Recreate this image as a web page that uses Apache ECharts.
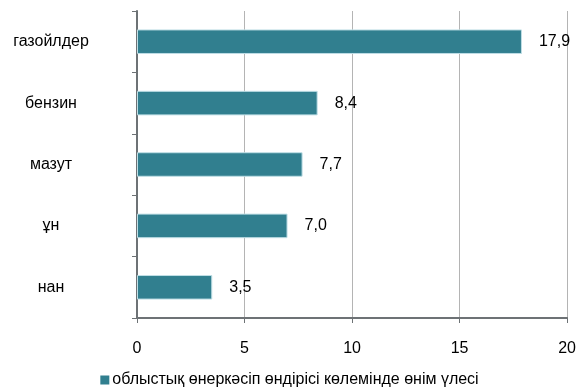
<!DOCTYPE html>
<html>
<head>
<meta charset="utf-8">
<script src="https://cdn.jsdelivr.net/npm/echarts@6/dist/echarts.min.js"></script>
<style>
html,body{margin:0;padding:0;background:#fff;}
#chart{width:579px;height:387px;}
</style>
</head>
<body>
<div id="chart"></div>
<script>
// категориялар (төменнен жоғары қарай)
var categories = ['нан', 'ұн', 'мазут', 'бензин', 'газойлдер'];
var values = [3.5, 7.0, 7.7, 8.4, 17.9];
var seriesName = 'облыстық өнеркәсіп өндірісі көлемінде өнім үлесі';
var xTicks = [0, 5, 10, 15, 20];

var myChart = echarts.init(document.getElementById('chart'));
var option = {
    animation: false,
    textStyle: {fontFamily: 'Liberation Sans, Arial, sans-serif'},
    grid: {left: 137, right: 11, top: 11, bottom: 69},
    legend: {
        data: [seriesName],
        top: 367,
        left: 'center',
        itemWidth: 9,
        itemHeight: 9,
        itemGap: 4,
        itemStyle: {borderWidth: 0},
        textStyle: {fontSize: 16, color: '#000', padding: [0, 0, 0, -2]},
        icon: 'rect'
    },
    xAxis: {
        type: 'value',
        min: xTicks[0],
        max: xTicks[xTicks.length - 1],
        interval: 5,
        axisLine: {show: true, lineStyle: {color: '#6d7275', width: 2}},
        axisTick: {show: true, length: 5, lineStyle: {color: '#6d7275'}},
        axisLabel: {color: '#000', fontSize: 16, margin: 23},
        splitLine: {show: true, lineStyle: {color: '#b4b4b4', width: 1}}
    },
    yAxis: {
        type: 'category',
        data: categories,
        axisLine: {show: true, lineStyle: {color: '#6d7275', width: 2}},
        axisTick: {show: true, length: 5, lineStyle: {color: '#6d7275'}},
        axisLabel: {color: '#000', fontSize: 16, align: 'center', margin: 86},
        splitLine: {show: false}
    },
    series: [{
        name: seriesName,
        type: 'bar',
        data: values,
        barCategoryGap: '60%',
        itemStyle: {color: '#317f8f', borderColor: '#c0dfe6', borderWidth: 1},
        label: {
            show: true,
            position: 'right',
            distance: 17,
            color: '#000',
            fontSize: 16,
            formatter: function (p) {
                return p.value.toFixed(1).replace('.', ',');
            }
        }
    }]
};
myChart.setOption(option, true);
</script>
</body>
</html>
